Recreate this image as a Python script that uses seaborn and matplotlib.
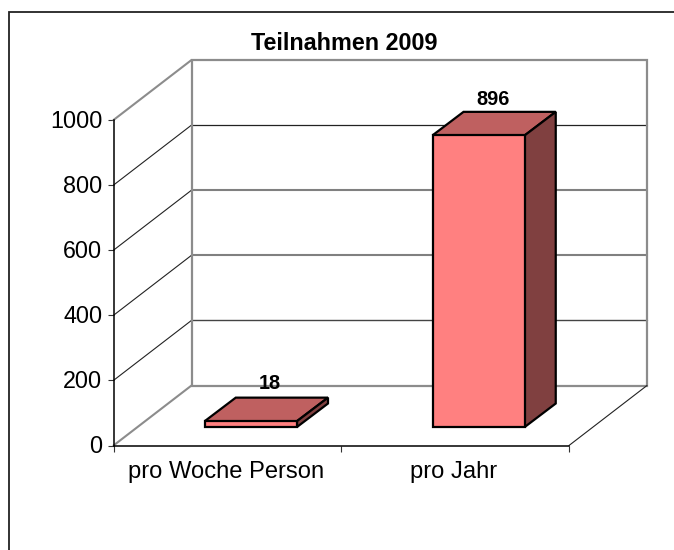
import matplotlib
matplotlib.use("Agg")
import matplotlib.pyplot as plt
from matplotlib.patches import Polygon
from matplotlib.lines import Line2D
from matplotlib.transforms import ScaledTranslation
import pandas as pd
import seaborn as sns

categories = ["pro Woche Person", "pro Jahr"]
values = [18, 896]
title = "Teilnahmen 2009"
y_ticks = [0, 200, 400, 600, 800, 1000]

FRONT, TOP, SIDE = "#FF8080", "#BF6060", "#804040"
GREY = "#8C8C8C"
W, H = 674, 550

sns.set_theme(style="white")
plt.rcParams["font.family"] = ["Liberation Sans", "DejaVu Sans"]

fig = plt.figure(figsize=(W / 100, H / 100), dpi=100, facecolor="white")
PX0, PX1, PY0, PY1 = 113.5, 569.0, 445.5, 120.0   # plot front plane, in pixels
ax = fig.add_axes([PX0 / W, 1 - PY0 / H, (PX1 - PX0) / W, (PY0 - PY1) / H])
ax.patch.set_visible(False)

df = pd.DataFrame({"cat": categories, "val": values})
sns.barplot(data=df, x="cat", y="val", ax=ax, color=FRONT, saturation=1,
            width=0.405, edgecolor="black", linewidth=1.6, zorder=5)
ax.set_xlim(-0.5, 1.5)
ax.set_ylim(0, 1000)

sx = 2 / (PX1 - PX0)      # data units per pixel
sy = 1000 / (PY0 - PY1)


def proj(x, y, dx=0.0, dy=0.0):
    return (x + dx * sx, y + dy * sy)


WALL = (78, 60)
# Back wall and side wall
xl, xr = ax.get_xlim()
grid_style = {200: ("#444444", 1.0), 400: ("#808080", 1.5), 600: ("#808080", 1.5), 800: ("#222222", 0.9)}
for t in y_ticks[1:-1]:
    col, lw = grid_style[t]
    ax.add_line(Line2D(*zip(proj(xl, t, *WALL), proj(xr, t, *WALL)), color=col, lw=lw, zorder=1, clip_on=False))
    ax.add_line(Line2D(*zip(proj(xl, t), proj(xl, t, *WALL)), color="#222222", lw=0.8, zorder=1, clip_on=False))
ax.add_patch(Polygon([proj(xl, 0, *WALL), proj(xr, 0, *WALL), proj(xr, 1000, *WALL), proj(xl, 1000, *WALL)],
                     closed=True, fill=False, edgecolor=GREY, lw=1.6, zorder=2, clip_on=False))
for t in (0, 1000):
    ax.add_line(Line2D(*zip(proj(xl, t), proj(xl, t, *WALL)), color=GREY, lw=1.5, zorder=2, clip_on=False))
ax.add_line(Line2D(*zip(proj(xr, 0), proj(xr, 0, *WALL)), color="#222222", lw=0.8, zorder=2, clip_on=False))

# 3D bars derived from the barplot rectangles
OFF = (23.5, 18.5)
DEPTH = (31, 23.5)
LABEL_OFF = [(19, 37.5), (14, 35.5)]
for p, v, lo in zip(ax.patches[:2], values, LABEL_OFF):
    x0, x1 = p.get_x(), p.get_x() + p.get_width()
    p.set_x(x0 + OFF[0] * sx)
    p.set_y(OFF[1] * sy)
    p.set_clip_on(False)
    p.set_joinstyle("miter")
    a, b = x0 + OFF[0] * sx, x1 + OFF[0] * sx
    b0, b1 = OFF[1] * sy, OFF[1] * sy + v
    ax.add_patch(Polygon([(a, b1), (b, b1), proj(b, b1, *DEPTH), proj(a, b1, *DEPTH)], closed=True,
                         facecolor=TOP, edgecolor="black", lw=1.6, zorder=4, clip_on=False))
    ax.add_patch(Polygon([(b, b0), (b, b1), proj(b, b1, *DEPTH), proj(b, b0, *DEPTH)], closed=True,
                         facecolor=SIDE, edgecolor="black", lw=1.6, zorder=4, clip_on=False))
    cx, cy = proj((a + b) / 2, b1, *lo)
    ax.text(cx, cy, str(v), ha="center", va="center", fontsize=14.4, fontweight="bold", color="black", zorder=6)

# Axes
for s in ("top", "right"):
    ax.spines[s].set_visible(False)
for s in ("left", "bottom"):
    ax.spines[s].set_color("black")
    ax.spines[s].set_linewidth(1.1)
    ax.spines[s].set_zorder(3)
ax.set_xlabel("")
ax.set_ylabel("")
ax.set_yticks(y_ticks)
ax.tick_params(axis="y", length=4.5, width=0.8, color="#333333", left=True, labelsize=16.8, pad=3.5, labelcolor="black")
ax.set_xticks([-0.5, 0.5, 1.5])
ax.set_xticklabels(["", "", ""])
ax.set_xticks([0, 1], minor=True)
ax.set_xticklabels(categories, minor=True, fontsize=17.1, color="black")
ax.tick_params(axis="x", which="major", length=4.5, width=0.8, color="#333333", bottom=True)
ax.tick_params(axis="x", which="minor", length=0, pad=11)

# Small pixel nudges of the tick labels
up = ScaledTranslation(0, 1.3 / 100, fig.dpi_scale_trans)
for lab in ax.get_yticklabels():
    lab.set_transform(lab.get_transform() + up)
left = ScaledTranslation(-1.5 / 100, 0, fig.dpi_scale_trans)
for lab in ax.get_xticklabels(minor=True):
    lab.set_transform(lab.get_transform() + left)

fig.text(344.5 / W, 1 - 43 / H, title, ha="center", va="center", fontsize=16.8, fontweight="bold", color="black")

# Chart frame: only the top and left edges fall inside the image
fig.add_artist(Line2D([8.5 / W, 8.5 / W, 1], [0, 1 - 12 / H, 1 - 12 / H], transform=fig.transFigure,
                      color="#222222", lw=1.3, solid_joinstyle="miter"))

fig.savefig("out.png", dpi=100)
